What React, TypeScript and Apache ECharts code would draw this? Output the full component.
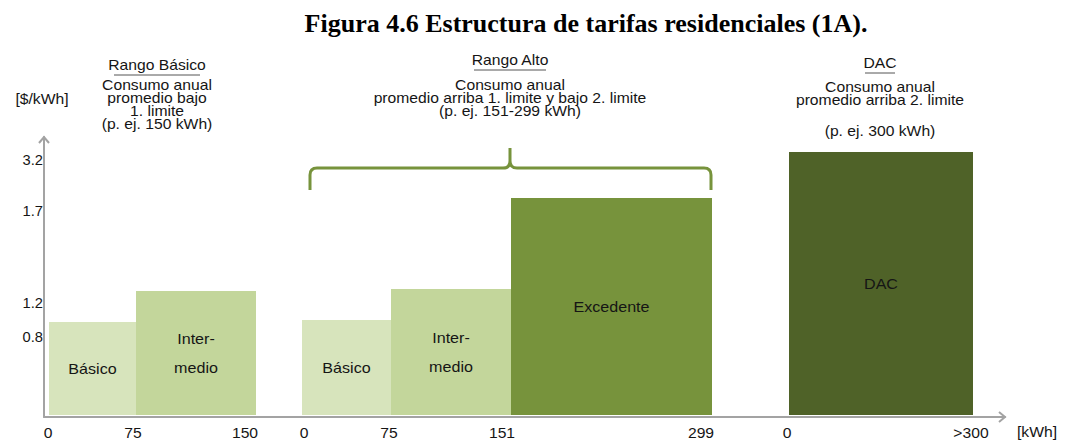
import React, { useEffect, useRef } from 'react';
import * as echarts from 'echarts';

// ---- data (schematic display units) ----
const segmentNames = ['Básico', 'Inter-\nmedio', 'Básico', 'Inter-\nmedio', 'Excedente', 'DAC'];
const segmentStart = [5, 92, 258, 347, 467, 745];
const segmentEnd = [92, 212, 347, 467, 668, 929];
const segmentHeight = [95, 126, 97, 128, 219, 265];
const segmentColors = ['#d7e4bc', '#c3d69b', '#d7e4bc', '#c3d69b', '#77933c', '#4f6228'];

const xTickLabels = ['0', '75', '150', '0', '75', '151', '299', '0', '>300'];
const xTickPositions = [4, 89, 201, 260, 345, 458, 657, 743, 927];
const yTickLabels = ['3.2', '1.7', '1.2', '0.8'];
const yTickPositions = [257, 206, 114, 80];

const BASE = 2;
const SANS = '"Liberation Sans", Arial, sans-serif';
const SERIF = '"Liberation Serif", "Times New Roman", serif';
const TXT = '#151515';
const AXIS = '#a3a3a3';

echarts.graphic.registerShape(
  'brace',
  echarts.graphic.extendPath(
    'M310,190 L310,175 Q310,168 317,168 L503,168 Q510,168 510,161 L510,148 M510,161 Q510,168 517,168 L704,168 Q711,168 711,175 L711,190',
    {}
  )
);

const hText = (text: string, x: number, y: number, lh = 13) => ({
  type: 'text',
  x,
  y,
  scaleX: 1.12,
  style: {
    text,
    fontSize: 14,
    lineHeight: lh,
    fontFamily: SANS,
    fill: TXT,
    align: 'center',
    verticalAlign: 'top',
  },
});

export default function App() {
  const ref = useRef<HTMLDivElement>(null);
  useEffect(() => {
    if (!ref.current) return;
    const chart = echarts.init(ref.current, undefined, { renderer: 'svg' });
    const option: any = {
      animation: false,
      backgroundColor: '#ffffff',
      grid: { left: 44, top: 137, width: 961, height: 280 },
      xAxis: {
        type: 'value',
        min: 0,
        max: 961,
        axisLine: { show: true, onZero: false, lineStyle: { color: AXIS, width: 2 } },
        axisTick: { show: false },
        axisLabel: { show: false },
        splitLine: { show: false },
      },
      yAxis: {
        type: 'value',
        min: 0,
        max: 280,
        axisLine: { show: true, lineStyle: { color: AXIS, width: 2 } },
        axisTick: { show: false },
        axisLabel: { show: false },
        splitLine: { show: false },
      },
      series: [
        {
          type: 'custom',
          name: 'tarifas',
          encode: { x: [0, 1], y: 2 },
          data: segmentStart.map((s, i) => [s, segmentEnd[i], segmentHeight[i]]),
          renderItem: (params: any, api: any) => {
            const i = params.dataIndex;
            const p0 = api.coord([api.value(0), BASE]);
            const p1 = api.coord([api.value(1), api.value(2)]);
            return {
              type: 'group',
              children: [
                {
                  type: 'rect',
                  shape: { x: p0[0], y: p1[1], width: p1[0] - p0[0], height: p0[1] - p1[1] },
                  style: { fill: segmentColors[i] },
                },
                {
                  type: 'text',
                  x: (p0[0] + p1[0]) / 2,
                  y: (p0[1] + p1[1]) / 2,
                  scaleX: 1.15,
                  style: {
                    text: segmentNames[i],
                    fontSize: 14,
                    lineHeight: 29,
                    fontFamily: SANS,
                    fill: TXT,
                    align: 'center',
                    verticalAlign: 'middle',
                  },
                },
              ],
            };
          },
        },
        {
          type: 'custom',
          name: 'xticks',
          encode: { x: 0, y: 1 },
          data: xTickPositions.map((p) => [p, 0]),
          renderItem: (params: any, api: any) => {
            const pt = api.coord([api.value(0), 0]);
            return {
              type: 'text',
              x: pt[0],
              y: pt[1] + 16,
              scaleX: 1.12,
              style: {
                text: xTickLabels[params.dataIndex],
                fontSize: 14,
                fontFamily: SANS,
                fill: TXT,
                align: 'center',
                verticalAlign: 'middle',
              },
            };
          },
        },
        {
          type: 'custom',
          name: 'yticks',
          encode: { x: 0, y: 1 },
          data: yTickPositions.map((p) => [0, p]),
          renderItem: (params: any, api: any) => {
            const pt = api.coord([0, api.value(1)]);
            return {
              type: 'text',
              x: pt[0] - 1,
              y: pt[1],
              scaleX: 1.05,
              style: {
                text: yTickLabels[params.dataIndex],
                fontSize: 14,
                fontFamily: SANS,
                fill: TXT,
                align: 'right',
                verticalAlign: 'middle',
              },
            };
          },
        },
      ],
      graphic: [
        {
          type: 'text',
          x: 586,
          y: 23,
          style: {
            text: 'Figura 4.6 Estructura de tarifas residenciales (1A).',
            fontSize: 26,
            fontWeight: 'bold',
            fontFamily: SERIF,
            fill: '#000',
            align: 'center',
            verticalAlign: 'middle',
          },
        },
        // Rango Básico
        hText('Rango Básico', 157, 59),
        { type: 'line', shape: { x1: 114, y1: 75, x2: 200, y2: 75 }, style: { stroke: '#555', lineWidth: 1 } },
        hText('Consumo anual\npromedio bajo\n1. limite\n(p. ej. 150 kWh)', 157, 79),
        // Rango Alto
        hText('Rango Alto', 510, 54),
        { type: 'line', shape: { x1: 474, y1: 70, x2: 546, y2: 70 }, style: { stroke: '#555', lineWidth: 1 } },
        hText('Consumo anual\npromedio arriba 1. limite y bajo 2. limite\n(p. ej. 151-299 kWh)', 510, 79),
        // DAC
        hText('DAC', 880, 57),
        { type: 'line', shape: { x1: 865, y1: 73, x2: 895, y2: 73 }, style: { stroke: '#555', lineWidth: 1 } },
        hText('Consumo anual\npromedio arriba 2. limite', 880, 81),
        hText('(p. ej. 300 kWh)', 880, 125),
        // axis units
        hText('[$/kWh]', 42, 93),
        hText('[kWh]', 1037, 426),
        // brace
        { type: 'brace', x: 0, y: 0, style: { stroke: '#77933c', lineWidth: 3, fill: 'none' } },
        // axis arrows
        { type: 'polyline', shape: { points: [[39, 143], [44, 137], [49, 143]] }, style: { stroke: AXIS, lineWidth: 2, fill: 'none' } },
        { type: 'polyline', shape: { points: [[999, 412], [1005, 417], [999, 422]] }, style: { stroke: AXIS, lineWidth: 2, fill: 'none' } },
        { type: 'line', shape: { x1: 44, y1: 355, x2: 44, y2: 383 }, style: { stroke: '#8a8a8a', lineWidth: 2 } },
      ],
    };
    chart.setOption(option);
    return () => chart.dispose();
  }, []);
  return (
    <div
      ref={ref}
      style={{ position: 'absolute', left: 0, top: 0, width: 1079, height: 443, background: '#fff' }}
    />
  );
}
